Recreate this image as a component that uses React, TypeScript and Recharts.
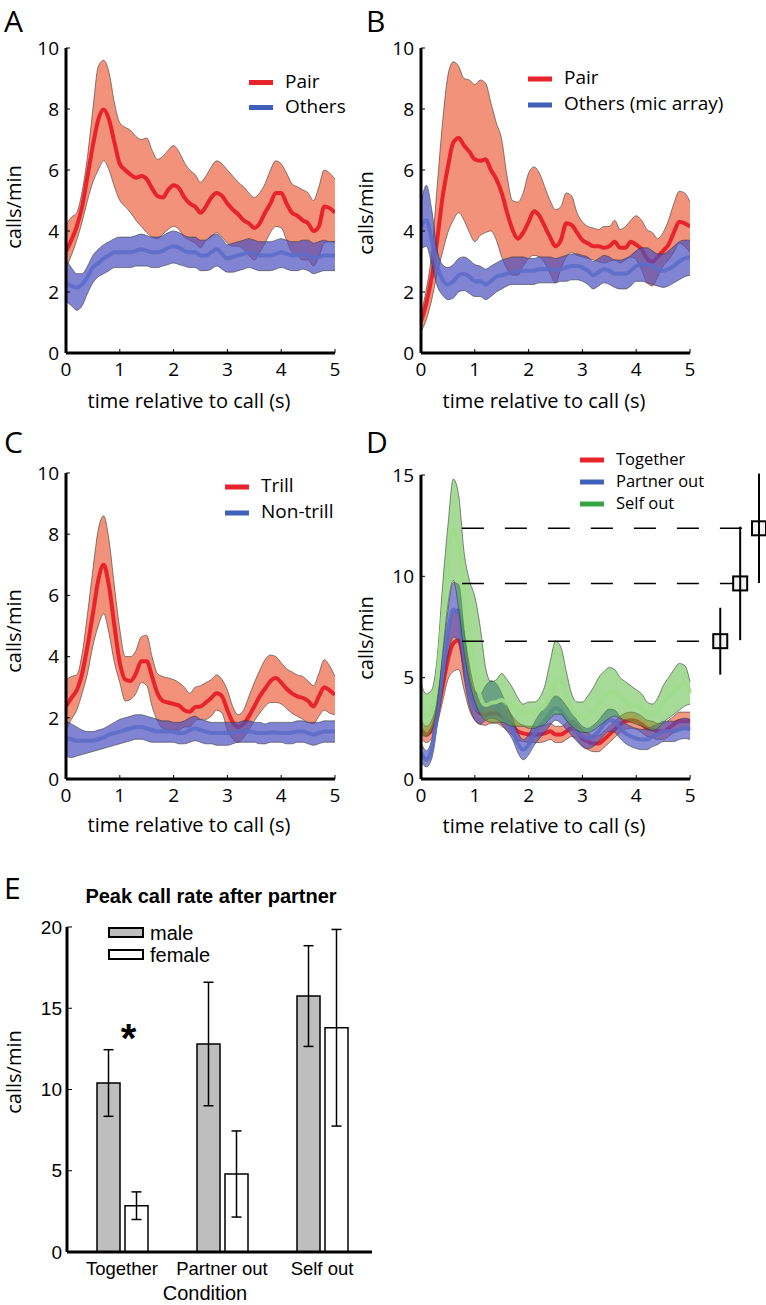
import React from 'react';
import {
  ComposedChart,
  Area,
  Line,
  XAxis,
  YAxis,
  Legend,
  ReferenceLine,
  Scatter,
  ErrorBar,
  BarChart,
  Bar,
} from 'recharts';

const FONT = '"Open Sans", "DejaVu Sans", sans-serif';
const ARIAL = '"Liberation Sans", Arial, sans-serif';

// ---------- shared time axis (s) ----------
const time = [
  0, 0.1, 0.2, 0.3, 0.4, 0.5, 0.6, 0.7, 0.8, 0.9, 1.0, 1.1, 1.2, 1.3, 1.4, 1.5, 1.6, 1.7, 1.8, 1.9, 2.0,
  2.1, 2.2, 2.3, 2.4, 2.5, 2.6, 2.7, 2.8, 2.9, 3.0, 3.1, 3.2, 3.3, 3.4, 3.5, 3.6, 3.7, 3.8, 3.9, 4.0,
  4.1, 4.2, 4.3, 4.4, 4.5, 4.6, 4.7, 4.8, 4.9, 5.0,
];
const timeTicks = [0, 1, 2, 3, 4, 5];

// ---------- Panel A ----------
const pairMeanA = [3.33,3.7,4.15,4.8,5.8,6.8,7.65,7.98,7.65,6.9,6.2,6.0,5.85,5.75,5.8,5.7,5.4,5.15,5.1,5.35,5.5,5.4,5.1,4.9,4.8,4.6,4.8,5.1,5.25,5.15,4.9,4.7,4.55,4.35,4.25,4.1,4.25,4.6,4.9,5.25,5.25,4.9,4.6,4.5,4.35,4.25,4.0,4.15,4.8,4.75,4.6];
const pairHighA = [4.2,4.45,4.6,5.3,6.45,8.0,9.4,9.6,9.2,8.2,7.55,7.4,7.3,7.1,7.0,7.05,6.65,6.35,6.45,6.65,6.8,6.6,6.25,6.0,5.85,5.6,5.8,6.1,6.3,6.2,6.0,5.8,5.6,5.45,5.25,5.1,5.25,5.55,6.0,6.3,6.2,5.9,5.55,5.45,5.35,5.25,5.0,5.45,6.0,5.9,5.7];
const pairLowA = [2.8,3.2,3.7,4.3,5.0,5.6,6.0,6.3,6.0,5.45,5.0,4.8,4.6,4.35,4.15,3.95,3.8,3.75,3.9,4.05,4.15,4.05,3.8,3.7,3.6,3.45,3.7,3.8,3.95,3.8,3.6,3.5,3.5,3.4,3.2,3.05,3.3,3.6,3.95,4.15,4.1,3.7,3.3,3.2,3.05,3.05,2.85,3.15,3.6,3.65,3.65];
const othersMeanA = [2.3,2.2,2.15,2.25,2.5,2.8,2.95,3.1,3.2,3.3,3.3,3.3,3.3,3.35,3.4,3.35,3.3,3.3,3.35,3.45,3.5,3.45,3.35,3.3,3.3,3.2,3.2,3.3,3.4,3.25,3.1,3.15,3.2,3.25,3.3,3.25,3.2,3.2,3.2,3.25,3.3,3.25,3.2,3.2,3.25,3.2,3.1,3.15,3.2,3.2,3.2];
const othersHighA = [3.05,2.8,2.6,2.6,2.85,3.2,3.4,3.55,3.65,3.75,3.8,3.8,3.8,3.85,3.9,3.85,3.8,3.8,3.85,3.95,4.0,3.95,3.85,3.8,3.8,3.7,3.7,3.85,3.9,3.75,3.55,3.6,3.65,3.7,3.75,3.7,3.65,3.65,3.65,3.7,3.75,3.7,3.65,3.65,3.7,3.7,3.6,3.65,3.7,3.65,3.65];
const othersLowA = [1.7,1.55,1.4,1.55,1.95,2.3,2.5,2.6,2.7,2.8,2.8,2.8,2.8,2.85,2.85,2.85,2.8,2.8,2.85,2.9,2.95,2.9,2.85,2.8,2.8,2.7,2.7,2.75,2.85,2.75,2.65,2.65,2.7,2.75,2.8,2.75,2.7,2.7,2.7,2.75,2.8,2.75,2.7,2.7,2.75,2.7,2.6,2.65,2.7,2.7,2.7];

// ---------- Panel B ----------
const pairMeanB = [1.04,1.64,2.5,3.7,5.1,6.1,6.9,7.05,6.8,6.6,6.35,6.3,6.35,6.0,5.7,5.25,4.6,4.05,3.75,3.95,4.3,4.65,4.5,4.15,3.8,3.5,3.7,4.25,4.2,3.95,3.7,3.6,3.5,3.5,3.45,3.5,3.65,3.45,3.45,3.65,3.55,3.4,3.1,3.0,3.15,3.35,3.55,3.95,4.3,4.25,4.15];
const pairHighB = [1.3,2.1,3.3,5.45,7.55,9.1,9.55,9.4,9.0,8.95,8.8,8.95,8.85,8.2,7.55,7.0,5.8,5.0,4.95,5.25,5.9,6.1,5.9,5.45,5.0,4.7,4.8,5.25,5.15,4.6,4.3,4.15,4.1,4.05,4.15,4.15,4.35,4.05,4.15,4.35,4.5,4.35,4.05,3.95,3.75,3.95,4.35,4.9,5.3,5.25,4.95];
const pairLowB = [0.7,1.1,1.75,2.6,3.3,3.95,4.35,4.6,4.35,3.95,3.65,3.85,3.95,4.0,3.7,3.15,2.75,2.55,2.55,2.85,3.1,3.2,3.15,2.95,2.6,2.3,2.75,3.15,3.3,3.2,3.15,3.1,3.05,3.0,2.95,3.0,3.05,2.95,3.05,3.15,3.05,2.75,2.3,2.2,2.5,2.85,3.05,3.3,3.6,3.5,3.3];
const othersMeanB = [4.15,4.35,3.7,2.85,2.4,2.25,2.35,2.55,2.6,2.5,2.35,2.35,2.25,2.35,2.5,2.55,2.6,2.65,2.7,2.7,2.7,2.7,2.75,2.75,2.75,2.7,2.75,2.8,2.85,2.85,2.8,2.7,2.55,2.65,2.75,2.7,2.6,2.6,2.6,2.7,2.85,2.9,2.9,2.85,2.75,2.7,2.75,2.85,3.0,3.1,3.15];
const othersHighB = [4.9,5.5,4.7,3.4,2.9,2.8,2.9,3.1,3.15,3.05,2.9,2.85,2.75,2.85,2.95,3.05,3.1,3.15,3.15,3.15,3.1,3.1,3.15,3.15,3.15,3.1,3.15,3.2,3.25,3.25,3.2,3.15,3.0,3.1,3.2,3.15,3.05,3.05,3.1,3.2,3.35,3.45,3.45,3.35,3.25,3.25,3.35,3.5,3.65,3.7,3.7];
const othersLowB = [3.4,3.5,2.9,2.2,1.9,1.75,1.8,2.0,2.05,1.95,1.85,1.85,1.75,1.85,2.0,2.1,2.2,2.25,2.25,2.25,2.25,2.25,2.3,2.3,2.3,2.3,2.35,2.35,2.4,2.4,2.35,2.25,2.1,2.2,2.3,2.25,2.15,2.1,2.1,2.2,2.35,2.35,2.3,2.25,2.2,2.15,2.2,2.3,2.4,2.5,2.55];

// ---------- Panel C ----------
const trillMean = [2.37,2.65,2.9,3.45,4.35,5.4,6.5,7.0,6.3,5.0,3.8,3.25,3.2,3.45,3.85,3.85,3.35,2.8,2.55,2.5,2.45,2.4,2.25,2.2,2.35,2.37,2.5,2.65,2.8,2.7,2.25,1.85,1.7,1.8,2.05,2.37,2.7,2.95,3.2,3.3,3.15,2.95,2.8,2.7,2.65,2.55,2.37,2.7,3.0,2.9,2.75];
const trillHigh = [3.25,3.35,3.4,4.1,5.4,6.85,8.15,8.6,7.8,6.3,4.9,4.0,4.0,4.2,4.65,4.7,4.0,3.45,3.35,3.3,3.25,3.15,3.0,2.8,3.0,3.05,3.15,3.25,3.4,3.25,2.9,2.37,2.1,2.25,2.7,3.15,3.55,3.9,4.05,4.0,3.8,3.6,3.5,3.4,3.35,3.2,3.05,3.45,3.9,3.7,3.35];
const trillLow = [1.6,1.95,2.25,2.8,3.45,4.35,5.0,5.4,4.75,3.8,3.15,2.55,2.6,2.8,3.15,3.05,2.37,1.9,1.65,1.6,1.6,1.6,1.7,1.7,1.9,1.95,1.95,2.05,2.25,2.15,1.6,1.3,1.2,1.35,1.6,1.9,2.15,2.37,2.5,2.5,2.45,2.3,2.15,2.05,1.95,1.85,1.8,2.05,2.25,2.15,2.1];
const nonTrillMean = [1.35,1.3,1.25,1.25,1.25,1.25,1.3,1.35,1.45,1.5,1.55,1.6,1.65,1.7,1.7,1.65,1.6,1.55,1.55,1.55,1.55,1.5,1.5,1.6,1.65,1.6,1.55,1.5,1.5,1.5,1.5,1.5,1.55,1.55,1.55,1.52,1.5,1.5,1.52,1.52,1.5,1.5,1.52,1.55,1.55,1.5,1.45,1.5,1.55,1.55,1.55];
const nonTrillHigh = [1.9,1.8,1.7,1.6,1.55,1.55,1.6,1.65,1.75,1.85,1.95,2.0,2.05,2.1,2.1,2.05,2.0,1.95,1.9,1.9,1.85,1.85,1.9,2.0,2.05,1.95,1.9,1.85,1.85,1.85,1.85,1.85,1.85,1.9,1.9,1.85,1.85,1.8,1.85,1.85,1.85,1.85,1.85,1.9,1.9,1.85,1.85,1.85,1.9,1.9,1.9];
const nonTrillLow = [0.75,0.7,0.75,0.8,0.85,0.9,0.95,1.0,1.05,1.1,1.15,1.2,1.25,1.3,1.3,1.25,1.2,1.2,1.2,1.2,1.2,1.15,1.15,1.2,1.25,1.2,1.15,1.15,1.1,1.1,1.1,1.15,1.2,1.2,1.2,1.2,1.15,1.15,1.2,1.2,1.2,1.15,1.15,1.2,1.2,1.15,1.1,1.15,1.2,1.2,1.2];

// ---------- Panel D ----------
const togetherMean = [2.45,2.2,2.45,3.25,4.55,5.9,6.7,6.85,5.7,4.4,3.6,3.25,3.15,3.25,3.25,3.1,2.9,2.6,2.35,2.25,2.2,2.2,2.2,2.25,2.35,2.2,2.2,2.35,2.5,2.35,2.0,1.85,1.75,1.75,1.95,2.2,2.45,2.7,2.85,2.9,2.85,2.7,2.5,2.45,2.35,2.35,2.5,2.7,2.85,2.85,2.85];
const togetherHigh = [2.9,2.6,2.9,3.8,5.3,7.0,8.2,8.4,7.2,5.6,4.4,3.9,3.7,3.75,3.8,3.7,3.45,3.1,2.8,2.65,2.6,2.6,2.6,2.65,2.75,2.6,2.6,2.75,2.9,2.75,2.4,2.25,2.15,2.15,2.35,2.6,2.85,3.1,3.25,3.3,3.25,3.1,2.9,2.85,2.75,2.75,2.9,3.1,3.3,3.3,3.3];
const togetherLow = [2.0,1.8,2.0,2.7,3.8,4.9,5.3,5.4,4.4,3.4,2.9,2.7,2.65,2.75,2.75,2.6,2.4,2.15,1.9,1.85,1.8,1.8,1.8,1.85,1.95,1.8,1.8,1.95,2.1,1.95,1.6,1.45,1.35,1.35,1.55,1.8,2.05,2.3,2.45,2.5,2.45,2.3,2.1,2.05,1.95,1.95,2.1,2.3,2.45,2.45,2.4];
const partnerMean = [1.3,0.95,1.45,3.25,5.2,7.2,8.35,8.2,6.2,4.4,3.6,3.4,3.65,3.75,3.6,3.25,2.9,2.45,1.75,1.45,1.7,2.2,2.6,2.9,3.25,3.5,3.35,3.0,2.7,2.35,2.1,2.0,2.1,2.35,2.7,2.9,2.85,2.5,2.25,2.1,2.0,1.95,1.95,2.1,2.2,2.35,2.35,2.35,2.45,2.5,2.45];
const partnerHigh = [1.8,1.4,1.95,3.9,6.0,8.3,9.7,9.6,7.4,5.2,4.3,4.2,4.6,4.85,4.7,4.2,3.6,3.0,2.3,1.95,2.2,2.75,3.2,3.5,3.85,4.1,3.95,3.6,3.25,2.9,2.6,2.5,2.65,2.9,3.25,3.45,3.4,3.05,2.75,2.6,2.5,2.45,2.45,2.6,2.7,2.85,2.85,2.85,2.95,3.0,2.95];
const partnerLow = [0.85,0.6,1.0,2.6,4.4,6.1,7.0,6.8,5.0,3.6,2.9,2.7,2.9,3.0,2.95,2.7,2.35,1.95,1.3,0.95,1.2,1.65,2.0,2.3,2.65,2.9,2.75,2.45,2.15,1.85,1.6,1.5,1.6,1.85,2.15,2.35,2.3,2.0,1.75,1.6,1.5,1.45,1.45,1.6,1.7,1.85,1.85,1.85,1.95,2.0,1.95];
const selfMean = [3.25,3.1,3.4,4.9,7.85,10.8,12.3,11.45,9.15,7.0,5.4,4.05,3.65,3.75,3.8,3.9,3.75,3.6,3.4,3.25,3.25,3.35,3.4,3.6,4.05,4.75,4.9,4.05,3.4,3.1,3.0,3.15,3.4,3.65,4.0,4.3,4.3,4.05,3.8,3.65,3.6,3.5,3.25,3.15,3.35,3.75,4.05,4.3,4.55,4.75,4.25];
const selfHigh = [4.7,4.2,4.4,6.0,9.5,12.5,14.8,14.0,11.2,9.8,9.0,7.5,5.5,4.8,4.9,5.2,4.9,4.5,4.0,3.7,3.8,3.8,4.0,4.6,5.8,6.8,6.5,5.3,4.2,3.8,3.8,4.1,4.5,5.0,5.3,5.5,5.4,5.0,4.8,4.6,4.4,4.2,3.8,3.7,4.0,4.6,5.0,5.4,5.7,5.6,4.8];
const selfLow = [2.2,2.1,2.4,3.6,6.2,8.6,9.8,8.4,6.3,4.8,3.8,3.2,2.9,2.8,2.8,2.8,2.7,2.6,2.6,2.6,2.5,2.5,2.6,2.7,3.0,3.2,3.2,2.9,2.6,2.4,2.3,2.3,2.4,2.6,2.8,3.0,3.1,3.0,2.9,2.8,2.7,2.6,2.5,2.4,2.5,2.8,3.0,3.2,3.4,3.6,3.7];

// peak markers (right of panel D)
const peakTimes = [5.56, 5.93, 6.28];
const peakValues = [6.8, 9.65, 12.37];
const peakErrors = [1.65, 2.8, 2.7];
const guideStart = 0.76;
const guideEnds = [5.43, 5.8, 6.14];

// ---------- Panel E ----------
const conditions = ['Together', 'Partner out', 'Self out'];
const maleRate = [10.4, 12.8, 15.75];
const maleErr = [2.05, 3.8, 3.1];
const femaleRate = [2.85, 4.8, 13.8];
const femaleErr = [0.85, 2.65, 6.05];
const eTicks = [0, 5, 10, 15, 20];

// ---------- colors ----------
const RED_LINE = '#e8232b';
const RED_FILL = '#f2927a';
const BLUE_LINE = '#5a6cc8';
const BLUE_FILL = '#4a50c0';
const GREEN_LINE = '#9fdc8a';
const GREEN_FILL = '#4cb830';
const EDGE = '#3a3a3a';

type Series = {
  key: string;
  name: string;
  line: string;
  lineOpacity: number;
  fill: string;
  fillOpacity: number;
  swatch: string;
  mean: number[];
  low: number[];
  high: number[];
};

function buildRows(series: Series[]) {
  return time.map((t, i) => {
    const r: Record<string, any> = { t };
    series.forEach((s) => {
      r[s.key + 'm'] = s.mean[i];
      r[s.key + 'b'] = [s.low[i], s.high[i]];
    });
    return r;
  });
}

const seriesA: Series[] = [
  { key: 'pair', name: 'Pair', line: RED_LINE, lineOpacity: 1, fill: RED_FILL, fillOpacity: 1, swatch: RED_LINE, mean: pairMeanA, low: pairLowA, high: pairHighA },
  { key: 'oth', name: 'Others', line: BLUE_LINE, lineOpacity: 0.85, fill: BLUE_FILL, fillOpacity: 0.7, swatch: '#3f5fb8', mean: othersMeanA, low: othersLowA, high: othersHighA },
];
const seriesB: Series[] = [
  { key: 'pair', name: 'Pair', line: RED_LINE, lineOpacity: 1, fill: RED_FILL, fillOpacity: 1, swatch: RED_LINE, mean: pairMeanB, low: pairLowB, high: pairHighB },
  { key: 'oth', name: 'Others (mic array)', line: BLUE_LINE, lineOpacity: 0.85, fill: BLUE_FILL, fillOpacity: 0.7, swatch: '#3f5fb8', mean: othersMeanB, low: othersLowB, high: othersHighB },
];
const seriesC: Series[] = [
  { key: 'trill', name: 'Trill', line: RED_LINE, lineOpacity: 1, fill: RED_FILL, fillOpacity: 1, swatch: RED_LINE, mean: trillMean, low: trillLow, high: trillHigh },
  { key: 'non', name: 'Non-trill', line: BLUE_LINE, lineOpacity: 0.85, fill: BLUE_FILL, fillOpacity: 0.7, swatch: '#3f5fb8', mean: nonTrillMean, low: nonTrillLow, high: nonTrillHigh },
];
const seriesD: Series[] = [
  { key: 'tog', name: 'Together', line: RED_LINE, lineOpacity: 1, fill: RED_FILL, fillOpacity: 0.95, swatch: RED_LINE, mean: togetherMean, low: togetherLow, high: togetherHigh },
  { key: 'par', name: 'Partner out', line: BLUE_LINE, lineOpacity: 0.85, fill: BLUE_FILL, fillOpacity: 0.65, swatch: '#3f5fb8', mean: partnerMean, low: partnerLow, high: partnerHigh },
  { key: 'self', name: 'Self out', line: GREEN_LINE, lineOpacity: 0.9, fill: GREEN_FILL, fillOpacity: 0.5, swatch: '#33a845', mean: selfMean, low: selfLow, high: selfHigh },
];

const tickStyle = { fontFamily: FONT, fontSize: 19, fill: '#000' };

const vTitle = (text: string, x: number, y: number, family = FONT) => () => (
  <text
    x={x}
    y={y}
    transform={`rotate(-90 ${x} ${y})`}
    textAnchor="middle"
    dominantBaseline="central"
    fontFamily={family}
    fontSize={20}
    fill="#000"
  >
    {text}
  </text>
);

const hTitle = (text: string, x: number, y: number, family = FONT, size = 20) => () => (
  <text x={x} y={y} textAnchor="middle" dominantBaseline="central" fontFamily={family} fontSize={size} fill="#000">
    {text}
  </text>
);

function LineLegend({ items, rowGap, fontSize }: { items: Series[]; rowGap: number; fontSize: number }) {
  const h = items.length * rowGap + 6;
  return (
    <svg width={230} height={h} style={{ display: 'block', overflow: 'visible' }}>
      {items.map((it, i) => {
        const cy = rowGap / 2 + i * rowGap;
        return (
          <g key={it.key}>
            <line x1={0} x2={24} y1={cy + 2} y2={cy + 2} stroke={it.swatch} strokeWidth={5} />
            <text x={36} y={cy} dominantBaseline="central" fontFamily={FONT} fontSize={fontSize} fill="#000">
              {it.name}
            </text>
          </g>
        );
      })}
    </svg>
  );
}

type PanelProps = {
  left: number;
  top: number;
  width: number;
  height: number;
  margin: { top: number; right: number; left: number; bottom: number };
  yWidth: number;
  xHeight: number;
  xDomain: [number, number];
  yDomain: [number, number];
  yTicks: number[];
  series: Series[];
  legend: { x: number; y: number; rowGap: number; fontSize: number };
  xTitle: { x: number; y: number };
  yTitle: { x: number; y: number };
  hideXAxisLine?: boolean;
  children?: React.ReactNode;
};

function TimePanel(p: PanelProps) {
  const rows = buildRows(p.series);
  const elems: React.ReactNode[] = [];
  p.series.forEach((s, i) => {
    elems.push(
      <Area
        key={s.key + 'band'}
        dataKey={s.key + 'b'}
        type="monotone"
        fill={s.fill}
        fillOpacity={s.fillOpacity}
        stroke={EDGE}
        strokeWidth={0.7}
        strokeOpacity={0.85}
        isAnimationActive={false}
        legendType="none"
        dot={false}
        activeDot={false}
        zIndex={100 + i * 2}
      />
    );
    elems.push(
      <Line
        key={s.key + 'mean'}
        dataKey={s.key + 'm'}
        type="monotone"
        stroke={s.line}
        strokeOpacity={s.lineOpacity}
        strokeWidth={4}
        dot={false}
        activeDot={false}
        isAnimationActive={false}
        legendType="none"
        zIndex={101 + i * 2}
      />
    );
  });
  return (
    <div style={{ position: 'absolute', left: p.left, top: p.top }}>
      <ComposedChart width={p.width} height={p.height} data={rows} margin={p.margin}>
        <XAxis
          dataKey="t"
          type="number"
          domain={p.xDomain}
          ticks={timeTicks}
          allowDataOverflow
          height={p.xHeight}
          axisLine={p.hideXAxisLine ? false : { stroke: '#000', strokeWidth: 3 }}
          tickLine={{ stroke: '#000', strokeWidth: 1 }}
          tickSize={-4}
          tickMargin={14}
          tick={tickStyle}
          label={hTitle('time relative to call (s)', p.xTitle.x, p.xTitle.y)}
        />
        <YAxis
          type="number"
          domain={p.yDomain}
          ticks={p.yTicks}
          allowDataOverflow
          width={p.yWidth}
          axisLine={{ stroke: '#000', strokeWidth: 3 }}
          tickLine={{ stroke: '#000', strokeWidth: 1 }}
          tickSize={-4}
          tickMargin={11}
          tick={tickStyle}
          label={vTitle('calls/min', p.yTitle.x, p.yTitle.y)}
        />
        {elems}
        {p.children}
        <Legend
          layout="vertical"
          align="center"
          verticalAlign="middle"
          wrapperStyle={{ left: p.legend.x, top: p.legend.y, width: 'auto' }}
          content={() => <LineLegend items={p.series} rowGap={p.legend.rowGap} fontSize={p.legend.fontSize} />}
        />
      </ComposedChart>
    </div>
  );
}

const markerRows = peakTimes.map((t, i) => ({ t, v: peakValues[i], e: peakErrors[i] }));

const SquareMarker = (props: any) => {
  const { cx, cy } = props;
  if (cx == null || cy == null) return null;
  return <rect x={cx - 7} y={cy - 7} width={14} height={14} fill="#f2f2f2" stroke="#000" strokeWidth={2} />;
};

function PanelE() {
  const rows = conditions.map((c, i) => ({
    cond: c,
    male: maleRate[i],
    maleErr: maleErr[i],
    female: femaleRate[i],
    femaleErr: femaleErr[i],
  }));
  return (
    <div style={{ position: 'absolute', left: 0, top: 850 }}>
      <BarChart
        width={400}
        height={455}
        data={rows}
        margin={{ top: 77, right: 28, left: 20, bottom: 0 }}
        barGap={5}
      >
        <XAxis
          dataKey="cond"
          height={53}
          padding={{ left: 5, right: 0 }}
          axisLine={{ stroke: '#000', strokeWidth: 3 }}
          tickLine={false}
          tickSize={0}
          tickMargin={10}
          interval={0}
          tick={{ fontFamily: ARIAL, fontSize: 18.5, fill: '#000' }}
          label={hTitle('Condition', 205, 443, ARIAL, 20)}
        />
        <YAxis
          type="number"
          domain={[0, 20]}
          ticks={eTicks}
          width={47}
          axisLine={{ stroke: '#000', strokeWidth: 3 }}
          tickLine={{ stroke: '#000', strokeWidth: 1 }}
          tickSize={-5}
          tickMargin={10}
          tick={{ fontFamily: ARIAL, fontSize: 19, fill: '#000' }}
          label={vTitle('calls/min', 13, 222)}
        />
        <Bar dataKey="male" name="male" barSize={23} fill="#bebebe" stroke="#000" strokeWidth={1.5} isAnimationActive={false}>
          <ErrorBar dataKey="maleErr" width={5} stroke="#000" strokeWidth={1.5} direction="y" />
        </Bar>
        <Bar dataKey="female" name="female" barSize={23} fill="#ffffff" stroke="#000" strokeWidth={1.5} isAnimationActive={false}>
          <ErrorBar dataKey="femaleErr" width={5} stroke="#000" strokeWidth={1.5} direction="y" />
        </Bar>
        <Legend
          layout="vertical"
          align="center"
          verticalAlign="middle"
          wrapperStyle={{ left: 108, top: 77, width: 'auto' }}
          content={() => (
            <svg width={120} height={36} style={{ display: 'block', overflow: 'visible' }}>
              <rect x={1} y={1} width={34} height={9} fill="#bebebe" stroke="#000" strokeWidth={2} />
              <text x={42} y={6} dominantBaseline="central" fontFamily={ARIAL} fontSize={20} fill="#000">male</text>
              <rect x={1} y={23} width={34} height={9} fill="#ffffff" stroke="#000" strokeWidth={2} />
              <text x={42} y={28} dominantBaseline="central" fontFamily={ARIAL} fontSize={20} fill="#000">female</text>
            </svg>
          )}
        />
      </BarChart>
    </div>
  );
}

export default function App() {
  return (
    <div style={{ position: 'absolute', left: 0, top: 0, width: 766, height: 1305, background: '#fff', overflow: 'hidden' }}>
      <TimePanel
        left={0}
        top={0}
        width={383}
        height={420}
        margin={{ top: 48, right: 48, left: 20, bottom: 0 }}
        yWidth={46}
        xHeight={67}
        xDomain={[0, 5]}
        yDomain={[0, 10]}
        yTicks={[0, 2, 4, 6, 8, 10]}
        series={seriesA}
        legend={{ x: 249, y: 67.5, rowGap: 25, fontSize: 19 }}
        xTitle={{ x: 189, y: 400 }}
        yTitle={{ x: 13, y: 207 }}
      />
      <TimePanel
        left={340}
        top={0}
        width={426}
        height={420}
        margin={{ top: 48, right: 76, left: 31, bottom: 0 }}
        yWidth={50}
        xHeight={67}
        xDomain={[0, 5]}
        yDomain={[0, 10]}
        yTicks={[0, 2, 4, 6, 8, 10]}
        series={seriesB}
        legend={{ x: 188, y: 64, rowGap: 26, fontSize: 19 }}
        xTitle={{ x: 204, y: 400 }}
        yTitle={{ x: 25, y: 213 }}
      />
      <TimePanel
        left={0}
        top={420}
        width={383}
        height={430}
        margin={{ top: 53, right: 48, left: 20, bottom: 0 }}
        yWidth={46}
        xHeight={71}
        xDomain={[0, 5]}
        yDomain={[0, 10]}
        yTicks={[0, 2, 4, 6, 8, 10]}
        series={seriesC}
        legend={{ x: 225, y: 52, rowGap: 26, fontSize: 19 }}
        xTitle={{ x: 189, y: 404 }}
        yTitle={{ x: 13, y: 211 }}
      />
      <TimePanel
        left={340}
        top={420}
        width={426}
        height={430}
        margin={{ top: 55, right: 0, left: 31, bottom: 0 }}
        yWidth={50}
        xHeight={71}
        xDomain={[0, 6.41]}
        yDomain={[0, 15]}
        yTicks={[0, 5, 10, 15]}
        series={seriesD}
        legend={{ x: 240, y: 27, rowGap: 22, fontSize: 16.5 }}
        xTitle={{ x: 204, y: 405 }}
        yTitle={{ x: 25, y: 218 }}
        hideXAxisLine
      >
        <ReferenceLine
          segment={[{ x: 0, y: 0 }, { x: 5, y: 0 }]}
          stroke="#000"
          strokeWidth={3}
          ifOverflow="visible"
        />
        {peakValues.map((v, i) => (
          <ReferenceLine
            key={'guide' + i}
            segment={[{ x: guideStart, y: v }, { x: guideEnds[i], y: v }]}
            stroke="#000"
            strokeWidth={1.6}
            strokeDasharray="22 21"
            ifOverflow="visible"
          />
        ))}
        <Scatter data={markerRows} dataKey="v" shape={SquareMarker} isAnimationActive={false} legendType="none" zIndex={200}>
          <ErrorBar dataKey="e" direction="y" width={0} stroke="#000" strokeWidth={2} />
        </Scatter>
      </TimePanel>
      <PanelE />
      <svg
        width={766}
        height={1305}
        style={{ position: 'absolute', left: 0, top: 0, pointerEvents: 'none' }}
      >
        <text x={4} y={32} fontFamily={FONT} fontSize={30} fill="#000">A</text>
        <text x={366} y={32} fontFamily={FONT} fontSize={30} fill="#000">B</text>
        <text x={4} y={453} fontFamily={FONT} fontSize={30} fill="#000">C</text>
        <text x={366} y={453} fontFamily={FONT} fontSize={30} fill="#000">D</text>
        <text x={4} y={899} fontFamily={FONT} fontSize={30} fill="#000">E</text>
        <text x={211} y={903} textAnchor="middle" fontFamily={ARIAL} fontWeight="bold" fontSize={20} fill="#000">
          Peak call rate after partner
        </text>
        <text x={128.5} y={1052} textAnchor="middle" fontFamily={ARIAL} fontWeight="bold" fontSize={40} fill="#000">
          *
        </text>
      </svg>
    </div>
  );
}
